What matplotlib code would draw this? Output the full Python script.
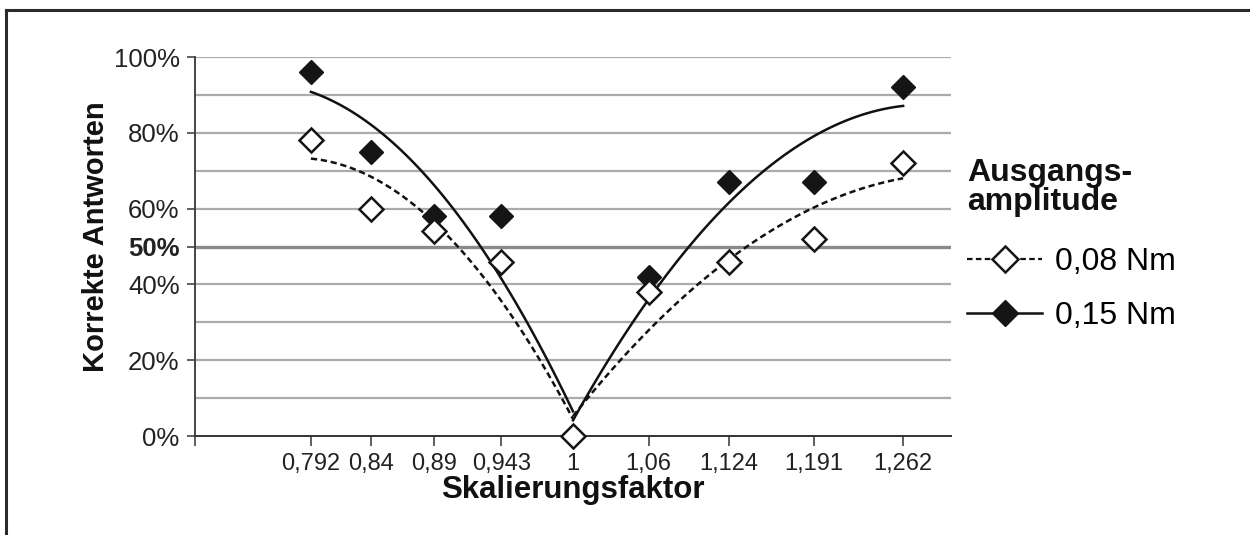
import numpy as np
import matplotlib
matplotlib.use("Agg")
import matplotlib.pyplot as plt
from matplotlib.lines import Line2D

# Skalierungsfaktor (x) and share of correct answers per start amplitude
scale_x = [0.792, 0.84, 0.89, 0.943, 1.0, 1.06, 1.124, 1.191, 1.262]
scale_labels = ['0,792', '0,84', '0,89', '0,943', '1', '1,06', '1,124', '1,191', '1,262']
amp_008 = [0.78, 0.60, 0.54, 0.46, 0.0, 0.38, 0.46, 0.52, 0.72]
amp_015 = [0.96, 0.75, 0.58, 0.58, 0.0, 0.42, 0.67, 0.67, 0.92]
y_ticks = [0.0, 0.2, 0.4, 0.5, 0.6, 0.8, 1.0]
y_labels = ['0%', '20%', '40%', '50%', '60%', '80%', '100%']
legend_labels = ['0,08 Nm', '0,15 Nm']

plt.rcParams['font.family'] = ['Liberation Sans', 'DejaVu Sans']

W, H = 1250, 535
fig = plt.figure(figsize=(W / 100, H / 100), dpi=100)
ax = fig.add_axes([195 / W, 1 - 436 / H, (951 - 195) / W, (436 - 57) / H])

ax.set_xlim(0.7, 1.3)
ax.set_ylim(0, 1)

# grid every 10 %, 50 % line emphasised
ax.set_yticks(y_ticks)
ax.set_yticklabels(y_labels)
ax.set_yticks([0.1, 0.3, 0.7, 0.9], minor=True)
ax.yaxis.grid(True, which='both', color='#ababab', lw=1.6)
ax.set_axisbelow(True)
for gl, t in zip(ax.get_ygridlines(), y_ticks):
    if t == 0.5:
        gl.set_color('#8a8a8a')
        gl.set_linewidth(2.4)
    if t == 0.0:
        gl.set_visible(False)
ax.tick_params(axis='y', which='minor', length=0)
ax.tick_params(axis='y', which='major', length=6, width=1.2, color='#444444',
               labelsize=18.5, pad=5, labelcolor='#222222')
for lbl in ax.get_yticklabels():
    if lbl.get_text() == '50%':
        lbl.set_fontweight('bold')

ax.set_xticks([0.7] + scale_x)
ax.set_xticklabels([''] + scale_labels)
ax.tick_params(axis='x', length=7, width=1.2, color='#444444', labelsize=17,
               pad=5, labelcolor='#222222')

for side in ['top', 'right']:
    ax.spines[side].set_visible(False)
ax.spines['left'].set_color('#444444')
ax.spines['left'].set_linewidth(1.4)
ax.spines['bottom'].set_color('#333333')
ax.spines['bottom'].set_linewidth(1.4)

x = np.array(scale_x)
mid = 4  # index of x = 1


def trend(ax, y, **kw):
    # quadratic trend line fitted separately left and right of x = 1
    y = np.array(y)
    for sl in (slice(0, mid + 1), slice(mid, None)):
        c = np.polyfit(x[sl], y[sl], 2)
        xs = np.linspace(x[sl][0], x[sl][-1], 100)
        ax.plot(xs, np.polyval(c, xs), **kw)


trend(ax, amp_008, color='#111111', lw=1.8, ls=(0, (2.5, 1.5)))
trend(ax, amp_015, color='#111111', lw=1.8, ls='-')

ax.plot(x, amp_015, ls='none', marker='D', ms=12, mfc='#151515', mec='#151515',
        clip_on=False, zorder=4)
ax.plot(x, amp_008, ls='none', marker='D', ms=12, mfc='white', mec='#151515',
        mew=1.8, clip_on=False, zorder=5)

fig.text(96 / W, 1 - 237 / H, 'Korrekte Antworten', rotation=90, ha='center',
         va='center', fontsize=21, fontweight='bold', color='#111111')
fig.text(573 / W, 1 - 490 / H, 'Skalierungsfaktor', ha='center', va='center',
         fontsize=22.5, fontweight='bold', color='#111111')

# legend title as its own text, entries below it
fig.text(967 / W, 1 - 158 / H, 'Ausgangs-\namplitude', ha='left', va='top',
         fontsize=23, fontweight='bold', color='#111111', linespacing=0.95)
handles = [
    Line2D([], [], color='#111111', lw=1.6, ls=(0, (2.5, 1.5)), marker='D', ms=13,
           mfc='white', mec='#151515', mew=1.8),
    Line2D([], [], color='#111111', lw=1.8, ls='-', marker='D', ms=13,
           mfc='#151515', mec='#151515'),
]
fig.legend(handles, legend_labels, loc='upper left',
           bbox_to_anchor=(967 / W, 1 - 247 / H), frameon=False, borderpad=0,
           borderaxespad=0, fontsize=23, handlelength=2.35, handletextpad=0.4,
           labelspacing=0.75)

# frame of the original figure (only top and left edge visible)
fig.add_artist(Line2D([5.5 / W, 5.5 / W], [0, 1 - 9.5 / H], color='#2a2a2a',
                      lw=2.2, transform=fig.transFigure))
fig.add_artist(Line2D([5.5 / W, 1], [1 - 9.5 / H, 1 - 9.5 / H], color='#2a2a2a',
                      lw=2.2, transform=fig.transFigure))

fig.savefig('out.png', dpi=100)
